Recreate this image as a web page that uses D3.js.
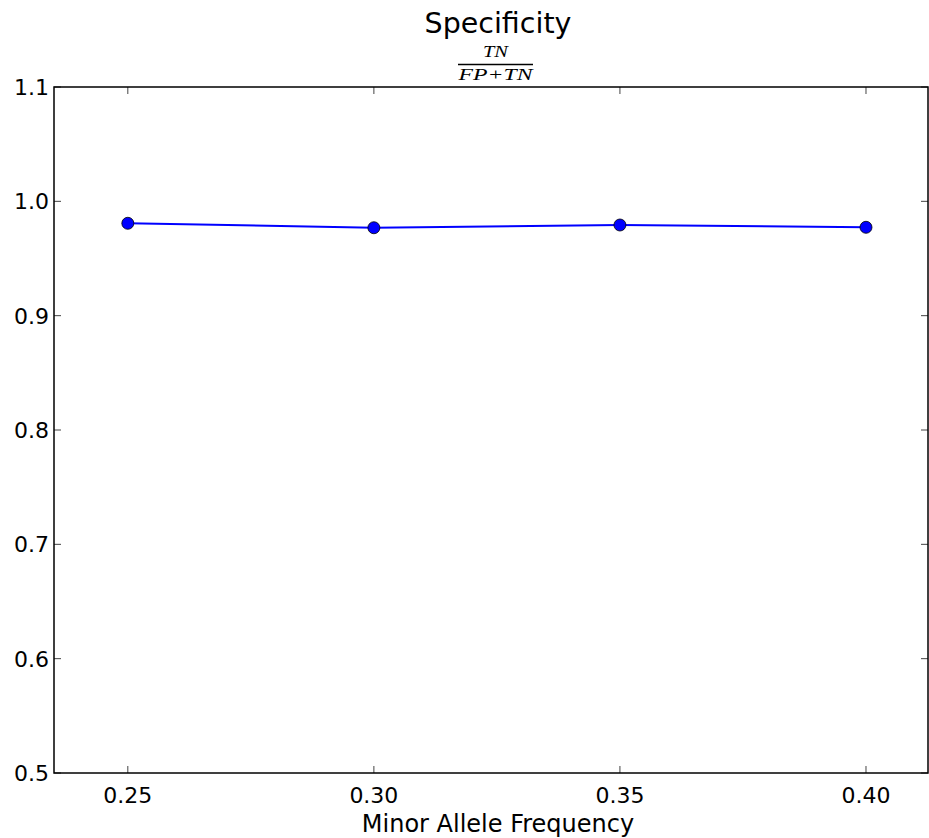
<!DOCTYPE html>
<html><head><meta charset="utf-8">
<script src="https://cdn.jsdelivr.net/npm/d3@7/dist/d3.min.js"></script>
<style>body{margin:0;background:#fff}svg{display:block}</style>
</head><body>
<script>
const mafValues = [0.25, 0.30, 0.35, 0.40];
const specificity = [0.9808, 0.9769, 0.9793, 0.9773];
const xTicks = [0.25, 0.30, 0.35, 0.40];
const yTicks = [0.5, 0.6, 0.7, 0.8, 0.9, 1.0, 1.1];

const W = 929, H = 838;
const m = {left: 54, right: 1, top: 87, bottom: 65};
const svg = d3.select("body").append("svg").attr("width", W).attr("height", H);
const x = d3.scaleLinear().domain([0.235, 0.4126]).range([m.left, W - m.right]);
const y = d3.scaleLinear().domain([0.5, 1.1]).range([H - m.bottom, m.top]);
const font = "DejaVu Sans";
const tickLen = 7;

const g = svg.append("g");
const tc = "#444";
xTicks.forEach(t => {
  g.append("line").attr("x1", x(t)).attr("x2", x(t)).attr("y1", y(0.5)).attr("y2", y(0.5) - tickLen).attr("stroke", tc).attr("stroke-width", 1);
  g.append("line").attr("x1", x(t)).attr("x2", x(t)).attr("y1", y(1.1)).attr("y2", y(1.1) + tickLen).attr("stroke", tc).attr("stroke-width", 1);
  g.append("text").attr("x", x(t)).attr("y", y(0.5) + 30).attr("text-anchor", "middle")
    .attr("font-family", font).attr("font-size", 22).text(d3.format(".2f")(t));
});
yTicks.forEach(t => {
  g.append("line").attr("x1", x.range()[0]).attr("x2", x.range()[0] + tickLen).attr("y1", y(t)).attr("y2", y(t)).attr("stroke", tc).attr("stroke-width", 1);
  g.append("line").attr("x1", x.range()[1]).attr("x2", x.range()[1] - tickLen).attr("y1", y(t)).attr("y2", y(t)).attr("stroke", tc).attr("stroke-width", 1);
  g.append("text").attr("x", x.range()[0] - 5).attr("y", y(t) + 8).attr("text-anchor", "end")
    .attr("font-family", font).attr("font-size", 22).text(d3.format(".1f")(t));
});
g.append("rect").attr("x", x.range()[0]).attr("y", y(1.1)).attr("width", x.range()[1] - x.range()[0])
  .attr("height", y(0.5) - y(1.1)).attr("fill", "none").attr("stroke", "#000").attr("stroke-width", 1.5);

const line = d3.line().x((d, i) => x(mafValues[i])).y(d => y(d));
g.append("path").datum(specificity).attr("d", line).attr("fill", "none").attr("stroke", "#0000ff").attr("stroke-width", 2);
g.selectAll("circle.pt").data(specificity).enter().append("circle")
  .attr("cx", (d, i) => x(mafValues[i])).attr("cy", d => y(d)).attr("r", 6)
  .attr("fill", "#0000ff").attr("stroke", "#000").attr("stroke-width", 0.8);

svg.append("text").attr("x", 498).attr("y", 33).attr("text-anchor", "middle")
  .attr("font-family", font).attr("font-size", 28.5).text("Specificity");
const cx = 495.5;
svg.append("text").attr("x", cx).attr("y", 57).attr("text-anchor", "middle")
  .attr("font-family", "Liberation Serif").attr("font-style", "italic").attr("font-size", 17)
  .attr("textLength", 25).attr("lengthAdjust", "spacingAndGlyphs").text("TN");
svg.append("line").attr("x1", 458).attr("x2", 533).attr("y1", 64.5).attr("y2", 64.5).attr("stroke", "#000").attr("stroke-width", 1.3);
svg.append("text").attr("x", cx).attr("y", 80).attr("text-anchor", "middle")
  .attr("font-family", "Liberation Serif").attr("font-style", "italic").attr("font-size", 17)
  .attr("textLength", 74).attr("lengthAdjust", "spacingAndGlyphs").text("FP+TN");
svg.append("text").attr("x", 498).attr("y", 832).attr("text-anchor", "middle")
  .attr("font-family", font).attr("font-size", 24).text("Minor Allele Frequency");
</script>
</body></html>
